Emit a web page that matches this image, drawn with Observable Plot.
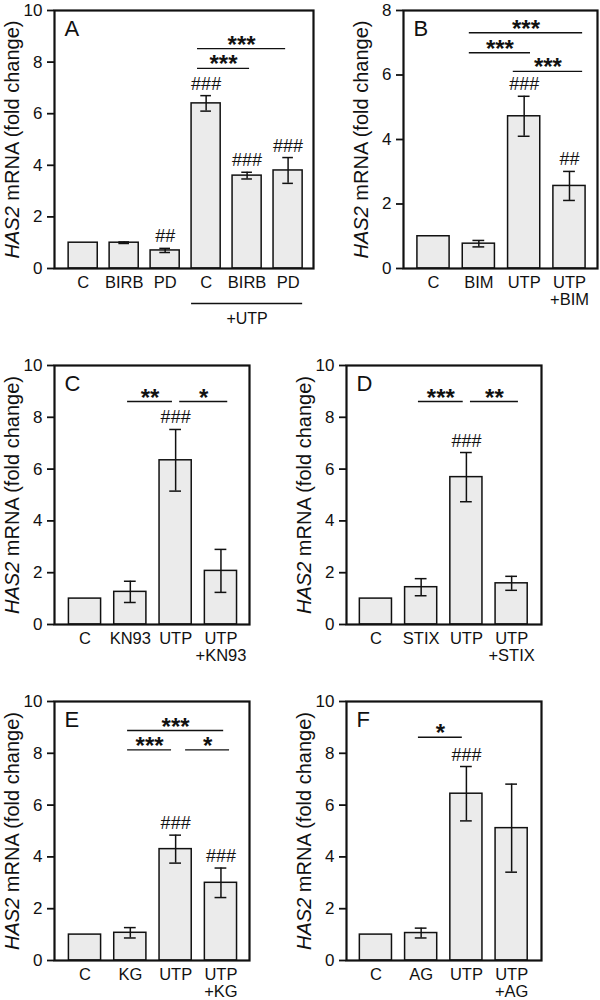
<!DOCTYPE html>
<html><head><meta charset="utf-8">
<script src="https://cdn.jsdelivr.net/npm/d3@7"></script>
<script src="https://cdn.jsdelivr.net/npm/@observablehq/plot@0.6"></script>
<style>
body{margin:0;background:#fff;}
#fig{position:relative;width:600px;height:1000px;overflow:hidden;background:#fff;}
.panel{position:absolute;}
</style></head><body><div id="fig"></div>
<script>
const FONT = "'Liberation Sans', Arial, Helvetica, sans-serif";
const yLabelText = "HAS2 mRNA (fold change)";

// ---- Panel A ----
const labelsA = ["C", "BIRB", "PD", "C", "BIRB", "PD"];
const meansA = [1.0, 1.0, 0.7, 6.4, 3.6, 3.8];
const errsA = [0, 0.03, 0.08, 0.3, 0.13, 0.5];
const hashA = ["", "", "##", "###", "###", "###"];
const sigA = [
  {from: 2.79, to: 4.94, y: 8.52, label: "***"},
  {from: 2.79, to: 4.06, y: 7.76, label: "***"}
];
const groupsA = [{from: 3, to: 5, label: "+UTP"}];
const ticksA = [0, 2, 4, 6, 8, 10];

// ---- Panel B ----
const labelsB = ["C", "BIM", "UTP", "UTP\n+BIM"];
const meansB = [1.0, 0.77, 4.72, 2.56];
const errsB = [0, 0.1, 0.62, 0.45];
const hashB = ["", "", "###", "##"];
const sigB = [
  {from: 0.79, to: 3.29, y: 7.31, label: "***"},
  {from: 0.79, to: 2.14, y: 6.69, label: "***"},
  {from: 1.76, to: 3.29, y: 6.11, label: "***"}
];
const ticksB = [0, 2, 4, 6, 8];

// ---- Panel C ----
const labelsC = ["C", "KN93", "UTP", "UTP\n+KN93"];
const meansC = [1.0, 1.26, 6.34, 2.07];
const errsC = [0, 0.41, 1.19, 0.83];
const hashC = ["", "", "###", ""];
const sigC = [
  {from: 0.94, to: 1.93, y: 8.61, label: "**"},
  {from: 2.09, to: 3.15, y: 8.61, label: "*"}
];

// ---- Panel D ----
const labelsD = ["C", "STIX", "UTP", "UTP\n+STIX"];
const meansD = [1.0, 1.44, 5.69, 1.59];
const errsD = [0, 0.33, 0.95, 0.27];
const hashD = ["", "", "###", ""];
const sigD = [
  {from: 0.94, to: 1.93, y: 8.61, label: "***"},
  {from: 2.09, to: 3.15, y: 8.61, label: "**"}
];

// ---- Panel E ----
const labelsE = ["C", "KG", "UTP", "UTP\n+KG"];
const meansE = [1.0, 1.07, 4.30, 3.0];
const errsE = [0, 0.2, 0.54, 0.57];
const hashE = ["", "", "###", "###"];
const sigE = [
  {from: 0.94, to: 3.06, y: 8.88, label: "***"},
  {from: 0.94, to: 1.91, y: 8.13, label: "***"},
  {from: 2.22, to: 3.19, y: 8.13, label: "*"}
];

// ---- Panel F ----
const labelsF = ["C", "AG", "UTP", "UTP\n+AG"];
const meansF = [1.0, 1.06, 6.44, 5.11];
const errsF = [0, 0.19, 1.05, 1.7];
const hashF = ["", "", "###", ""];
const sigF = [
  {from: 0.94, to: 1.91, y: 8.62, label: "*"}
];
const ticks10 = [0, 2, 4, 6, 8, 10];

const panels = [
  {letter: "A", labels: labelsA, means: meansA, errs: errsA, hashes: hashA, sig: sigA, groups: groupsA, yMax: 10, ticks: ticksA,
   left: 0, top: 0, width: 330, height: 330, mL: 54, mR: 17, mT: 10, mB: 62, xDomain: [-0.70, 5.62]},
  {letter: "B", labels: labelsB, means: meansB, errs: errsB, hashes: hashB, sig: sigB, groups: [], yMax: 8, ticks: ticksB,
   left: 330, top: 0, width: 270, height: 330, mL: 73, mR: 3, mT: 10, mB: 62, xDomain: [-0.662, 3.618]},
  {letter: "C", labels: labelsC, means: meansC, errs: errsC, hashes: hashC, sig: sigC, groups: [], yMax: 10, ticks: ticks10,
   left: 0, top: 330, width: 285, height: 335, mL: 54, mR: 36, mT: 35, mB: 41, xDomain: [-0.673, 3.63]},
  {letter: "D", labels: labelsD, means: meansD, errs: errsD, hashes: hashD, sig: sigD, groups: [], yMax: 10, ticks: ticks10,
   left: 285, top: 330, width: 315, height: 335, mL: 61, mR: 59, mT: 35, mB: 41, xDomain: [-0.65, 3.66]},
  {letter: "E", labels: labelsE, means: meansE, errs: errsE, hashes: hashE, sig: sigE, groups: [], yMax: 10, ticks: ticks10,
   left: 0, top: 665, width: 285, height: 335, mL: 36, mR: 36, mT: 36, mB: 40, xDomain: [-0.673, 3.63]},
  {letter: "F", labels: labelsF, means: meansF, errs: errsF, hashes: hashF, sig: sigF, groups: [], yMax: 10, ticks: ticks10,
   left: 285, top: 665, width: 315, height: 335, mL: 61, mR: 59, mT: 36, mB: 40, xDomain: [-0.65, 3.66]}
];
panels[4].mL = 54;

const fig = document.getElementById("fig");
const HW = 0.355, CAP = 0.13, INK = "#111";

for (const p of panels) {
  const rows = p.labels.map((label, i) => ({i, label, mean: p.means[i], err: p.errs[i], hash: p.hashes[i]}));
  const errRows = rows.filter(d => d.err > 0);
  const chart = Plot.plot({
    width: p.width, height: p.height,
    marginLeft: p.mL, marginRight: p.mR, marginTop: p.mT, marginBottom: p.mB,
    x: {domain: p.xDomain, axis: null},
    y: {domain: [0, p.yMax], axis: null},
    style: {fontFamily: FONT, fontSize: "17px", background: "transparent", overflow: "visible", color: INK},
    marks: [
      Plot.rect(rows, {x1: d => d.i - HW, x2: d => d.i + HW, y1: 0, y2: "mean", fill: "#ebebeb", stroke: INK, strokeWidth: 1.5}),
      Plot.ruleX(errRows, {x: "i", y1: d => d.mean - d.err, y2: d => d.mean + d.err, stroke: INK, strokeWidth: 1.5}),
      Plot.ruleY(errRows, {x1: d => d.i - CAP, x2: d => d.i + CAP, y: d => d.mean + d.err, stroke: INK, strokeWidth: 1.5}),
      Plot.ruleY(errRows, {x1: d => d.i - CAP, x2: d => d.i + CAP, y: d => d.mean - d.err, stroke: INK, strokeWidth: 1.5}),
      Plot.text(rows.filter(d => d.hash), {x: "i", y: d => d.mean + d.err, text: "hash", lineAnchor: "bottom", dy: -6, fontSize: 18, fill: INK}),
      Plot.ruleY(p.sig, {x1: "from", x2: "to", y: "y", stroke: INK, strokeWidth: 1.3}),
      Plot.text(p.sig, {x: d => (d.from + d.to) / 2, y: "y", text: "label", lineAnchor: "bottom", dy: 4, fontSize: 24, fontWeight: "bold", fill: INK}),
      Plot.text(rows, {x: "i", text: "label", frameAnchor: "bottom", lineAnchor: "top", dy: 8, fontSize: 16.5, lineHeight: 1.0, fill: INK}),
      Plot.ruleY(p.groups, {x1: d => d.from - HW, x2: d => d.to + HW, y: 0, dy: 35, stroke: INK, strokeWidth: 1.3}),
      Plot.text(p.groups, {x: d => (d.from + d.to) / 2, text: "label", frameAnchor: "bottom", lineAnchor: "bottom", dy: 55, fontSize: 16, fill: INK}),
      Plot.axisY({ticks: p.ticks, tickSize: 7, tickPadding: 5, fontSize: 17, label: null, stroke: INK, strokeWidth: 1.8, fill: INK}),
      Plot.text([p.letter], {text: d => d, frameAnchor: "top-left", textAnchor: "start", lineAnchor: "top", dx: 10, dy: 10, fontSize: 22, fill: INK}),
      Plot.text([yLabelText], {text: d => d, frameAnchor: "left", rotate: -90, textAnchor: "middle", lineAnchor: "middle", dx: -42, fontSize: 20, fill: INK}),
      Plot.frame({stroke: INK, strokeWidth: 2.2})
    ]
  });
  // italicize gene name in the y label
  d3.select(chart).selectAll("text")
    .filter(function() { return this.textContent === yLabelText; })
    .each(function() {
      const t = d3.select(this);
      t.text(null);
      t.append("tspan").attr("font-style", "italic").text("HAS2");
      t.append("tspan").text(" mRNA (fold change)");
    });
  const wrap = document.createElement("div");
  wrap.className = "panel";
  wrap.style.left = p.left + "px";
  wrap.style.top = p.top + "px";
  wrap.style.width = p.width + "px";
  wrap.appendChild(chart);
  fig.appendChild(wrap);
}
</script></body></html>
